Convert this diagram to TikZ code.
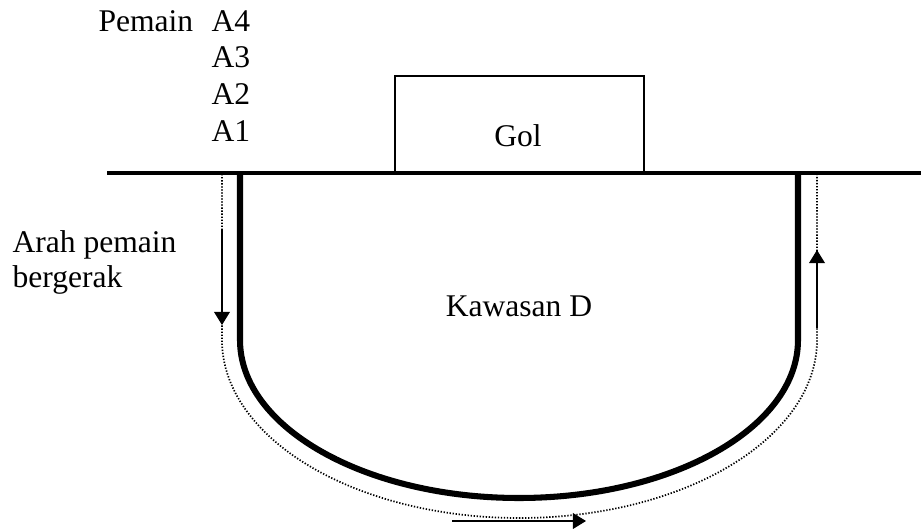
\documentclass[tikz,border=0pt]{standalone}
\usepackage{fontspec}
\setmainfont{Liberation Serif}
\usetikzlibrary{arrows.meta,positioning}

\begin{document}
\begin{tikzpicture}[x=0.38pt, y=-0.38pt]
% Define styles
\tikzstyle{txt} = [inner sep=0pt, font=\fontsize{12}{14}\selectfont]
\tikzstyle{field} = [draw, line width=1.7pt]
\tikzstyle{area} = [draw, line width=2.3pt]
\tikzstyle{route} = [draw, line width=0.65pt, dash pattern=on 0.5pt off 0.65pt]
\tikzstyle{line} = [draw, line width=0.6pt, -{Triangle[width=6pt, length=5pt]}]

    \useasboundingbox (0,0) rectangle (921,529);
    % Place texts
    \node [txt, anchor=base west] (pemain) at (98,32) {Pemain};
    \node [txt, anchor=base west] (a4) at (211,32) {A4};
    \node [txt, anchor=base west] (a3) at (211,68) {A3};
    \node [txt, anchor=base west] (a2) at (211,105) {A2};
    \node [txt, anchor=base west] (a1) at (211,142) {A1};
    \node [txt, anchor=base west] (arah) at (12,253) {Arah pemain};
    \node [txt, anchor=base west] (gerak) at (12,288) {bergerak};
    \node [txt, anchor=base] (gol) at (518,147) {Gol};
    \node [txt, anchor=base] (kawasan) at (519,317) {Kawasan D};
    % Draw field
    \draw [line width=0.75pt] (395,173) rectangle (644,76);
    \path [field] (107,173) -- (921,173);
    \path [area] (240,173) -- (240,340)
        arc [start angle=180, end angle=0, x radius=279, y radius=158] -- (798,173);
    \path [route] (240,174) -- (222,174) -- (222,340)
        arc [start angle=180, end angle=0, x radius=297.5, y radius=178]
        -- (817,174) -- (798,174);
    % Draw arrows
    \coordinate (down1) at (222,230);
    \coordinate (down2) at (222,325);
    \coordinate (across1) at (452,521);
    \coordinate (across2) at (586,521);
    \coordinate (up1) at (817,328);
    \coordinate (up2) at (817,250);
    \path [line] (down1) -- (down2);
    \path [line] (across1) -- (across2);
    \path [line] (up1) -- (up2);
\end{tikzpicture}
\end{document}
